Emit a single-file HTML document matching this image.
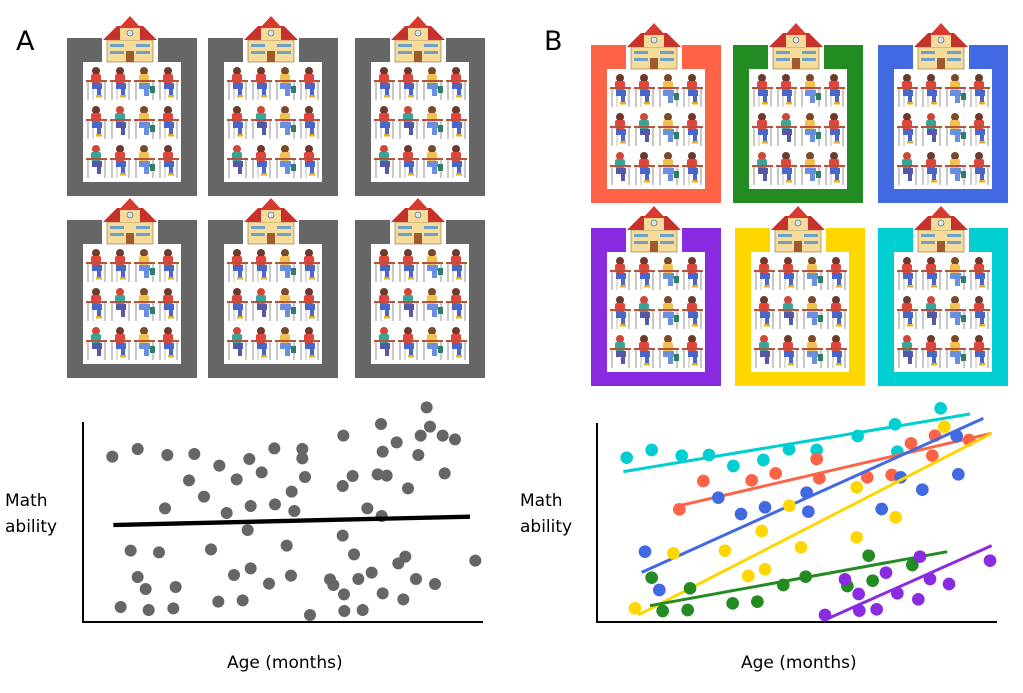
<!DOCTYPE html>
<html><head><meta charset="utf-8"><style>
html,body{margin:0;padding:0;background:#fff}
svg{display:block}
text{font-family:"DejaVu Sans","Liberation Sans",sans-serif;fill:#000}
</style></head><body>
<svg width="1023" height="693" viewBox="0 0 1023 693" xmlns="http://www.w3.org/2000/svg">
<defs>
<g id="stu">
 <line x1="2" y1="15" x2="2" y2="34" stroke="#aaa" stroke-width="1.3"/>
 <line x1="19" y1="15" x2="19" y2="34" stroke="#aaa" stroke-width="1.3"/>
 <line x1="7" y1="18" x2="7" y2="34" stroke="#bbb" stroke-width="1"/>
 <circle cx="10" cy="5" r="4" fill="#6b3a2a"/>
 <rect x="5" y="8" width="10" height="9" rx="2" fill="#e0443a"/>
 <rect x="6" y="17" width="10" height="6" fill="#4a66c8"/>
 <rect x="11" y="21" width="4" height="9" fill="#4a66c8"/>
 <rect x="0" y="14" width="21" height="2" fill="#b5533c"/>
 <rect x="10" y="29" width="6" height="2.5" fill="#e8b020"/>
</g>
<g id="stu2">
 <line x1="2" y1="15" x2="2" y2="34" stroke="#aaa" stroke-width="1.3"/>
 <line x1="19" y1="15" x2="19" y2="34" stroke="#aaa" stroke-width="1.3"/>
 <circle cx="10" cy="5" r="4" fill="#d0473a"/>
 <rect x="5" y="8" width="10" height="9" rx="2" fill="#3aa596"/>
 <rect x="6" y="17" width="10" height="6" fill="#5557a8"/>
 <rect x="11" y="21" width="4" height="9" fill="#5557a8"/>
 <rect x="0" y="14" width="21" height="2" fill="#b5533c"/>
</g>
<g id="stu3">
 <line x1="2" y1="15" x2="2" y2="34" stroke="#aaa" stroke-width="1.3"/>
 <line x1="19" y1="15" x2="19" y2="34" stroke="#aaa" stroke-width="1.3"/>
 <circle cx="10" cy="5" r="4" fill="#7a4a2a"/>
 <rect x="5" y="8" width="10" height="9" rx="2" fill="#f0c050"/>
 <rect x="5" y="17" width="11" height="6" fill="#6a8ee0"/>
 <rect x="10" y="21" width="5" height="9" fill="#6a8ee0"/>
 <rect x="16" y="20" width="5" height="7" fill="#2e7d6a"/>
 <rect x="0" y="14" width="21" height="2" fill="#b5533c"/>
</g>
<g id="cls">
 <rect x="0" y="0" width="130" height="158" fill="currentColor"/>
 <rect x="16" y="24" width="98" height="120" fill="#fff"/>
 <rect x="35" y="-3" width="56" height="28" fill="#fff"/>
 <polygon points="36,2 50,-12 76,-12 90,2" fill="#c8302a"/>
 <polygon points="52,-10 63,-22 74,-10" fill="#d83a30"/>
 <rect x="40" y="2" width="46" height="22" fill="#f5dc9a" stroke="#8a6a3a" stroke-width="0.6"/>
 <rect x="53" y="-10" width="20" height="12" fill="#f5dc9a"/>
 <circle cx="63" cy="-5" r="3" fill="#dde6f0" stroke="#556" stroke-width="0.6"/>
 <rect x="43" y="6" width="14" height="3" fill="#6fa0c8"/>
 <rect x="69" y="6" width="14" height="3" fill="#6fa0c8"/>
 <rect x="43" y="13" width="14" height="3" fill="#6fa0c8"/>
 <rect x="69" y="13" width="14" height="3" fill="#6fa0c8"/>
 <rect x="59" y="13" width="8" height="11" fill="#a05a30"/>
 <use href="#stu" x="19" y="28"/><use href="#stu" x="43" y="28"/><use href="#stu3" x="67" y="28"/><use href="#stu" x="91" y="28"/>
 <use href="#stu" x="19" y="67"/><use href="#stu2" x="43" y="67"/><use href="#stu3" x="67" y="67"/><use href="#stu" x="91" y="67"/>
 <use href="#stu2" x="19" y="106"/><use href="#stu" x="43" y="106"/><use href="#stu3" x="67" y="106"/><use href="#stu" x="91" y="106"/>
</g>
</defs>

<text x="16" y="50" font-size="27">A</text>
<text x="544" y="50" font-size="27">B</text>

<use href="#cls" x="67" y="38" style="color:#666"/>
<use href="#cls" x="208" y="38" style="color:#666"/>
<use href="#cls" x="355" y="38" style="color:#666"/>
<use href="#cls" x="67" y="220" style="color:#666"/>
<use href="#cls" x="208" y="220" style="color:#666"/>
<use href="#cls" x="355" y="220" style="color:#666"/>

<use href="#cls" x="591" y="45" style="color:#ff6347"/>
<use href="#cls" x="733" y="45" style="color:#228b22"/>
<use href="#cls" x="878" y="45" style="color:#4169e1"/>
<use href="#cls" x="591" y="228" style="color:#8a2be2"/>
<use href="#cls" x="735" y="228" style="color:#ffd700"/>
<use href="#cls" x="878" y="228" style="color:#00ced1"/>

<!-- Left plot -->
<path d="M83,422 V622 H483" fill="none" stroke="#000" stroke-width="2"/>
<g transform="translate(80,395) scale(0.33333)" fill="#666">
<circle cx="97" cy="185" r="18"/><circle cx="173" cy="162" r="18"/><circle cx="262" cy="180" r="18"/><circle cx="343" cy="177" r="18"/><circle cx="418" cy="212" r="18"/><circle cx="508" cy="192" r="18"/><circle cx="583" cy="160" r="18"/><circle cx="667" cy="162" r="18"/><circle cx="667" cy="190" r="18"/><circle cx="545" cy="232" r="18"/><circle cx="470" cy="253" r="18"/><circle cx="327" cy="256" r="18"/><circle cx="372" cy="305" r="18"/><circle cx="255" cy="340" r="18"/><circle cx="440" cy="354" r="18"/><circle cx="512" cy="333" r="18"/><circle cx="585" cy="328" r="18"/><circle cx="643" cy="348" r="18"/><circle cx="635" cy="290" r="18"/><circle cx="675" cy="246" r="18"/><circle cx="790" cy="122" r="18"/><circle cx="903" cy="87" r="18"/><circle cx="1040" cy="37" r="18"/><circle cx="1050" cy="95" r="18"/><circle cx="1022" cy="122" r="18"/><circle cx="1088" cy="122" r="18"/><circle cx="1125" cy="133" r="18"/><circle cx="950" cy="142" r="18"/><circle cx="908" cy="170" r="18"/><circle cx="1015" cy="180" r="18"/><circle cx="818" cy="243" r="18"/><circle cx="788" cy="273" r="18"/><circle cx="893" cy="238" r="18"/><circle cx="920" cy="242" r="18"/><circle cx="984" cy="280" r="18"/><circle cx="1094" cy="235" r="18"/><circle cx="862" cy="340" r="18"/><circle cx="905" cy="363" r="18"/><circle cx="503" cy="405" r="18"/><circle cx="152" cy="467" r="18"/><circle cx="237" cy="472" r="18"/><circle cx="393" cy="463" r="18"/><circle cx="620" cy="452" r="18"/><circle cx="788" cy="422" r="18"/><circle cx="822" cy="478" r="18"/><circle cx="976" cy="485" r="18"/><circle cx="955" cy="505" r="18"/><circle cx="1186" cy="497" r="18"/><circle cx="173" cy="546" r="18"/><circle cx="197" cy="582" r="18"/><circle cx="287" cy="576" r="18"/><circle cx="462" cy="540" r="18"/><circle cx="512" cy="520" r="18"/><circle cx="567" cy="566" r="18"/><circle cx="633" cy="542" r="18"/><circle cx="750" cy="553" r="18"/><circle cx="760" cy="570" r="18"/><circle cx="835" cy="552" r="18"/><circle cx="875" cy="533" r="18"/><circle cx="1008" cy="552" r="18"/><circle cx="1065" cy="567" r="18"/><circle cx="792" cy="598" r="18"/><circle cx="908" cy="595" r="18"/><circle cx="970" cy="613" r="18"/><circle cx="122" cy="636" r="18"/><circle cx="206" cy="645" r="18"/><circle cx="280" cy="640" r="18"/><circle cx="415" cy="620" r="18"/><circle cx="488" cy="616" r="18"/><circle cx="690" cy="660" r="18"/><circle cx="793" cy="648" r="18"/><circle cx="848" cy="645" r="18"/>
<line x1="100" y1="390" x2="1170" y2="365" stroke="#000" stroke-width="13"/>
</g>
<text x="5" y="506" font-size="17">Math</text>
<text x="5" y="532" font-size="17">ability</text>
<text x="227" y="668" font-size="17">Age (months)</text>

<!-- Right plot -->
<path d="M597,423 V622 H997" fill="none" stroke="#000" stroke-width="2"/>
<g transform="translate(590,395) scale(0.33333)">
<g fill="#00ced1"><circle cx="110" cy="188" r="19"/><circle cx="185" cy="165" r="19"/><circle cx="275" cy="182" r="19"/><circle cx="357" cy="180" r="19"/><circle cx="430" cy="213" r="19"/><circle cx="520" cy="195" r="19"/><circle cx="597" cy="163" r="19"/><circle cx="680" cy="165" r="19"/><circle cx="803" cy="123" r="19"/><circle cx="915" cy="88" r="19"/><circle cx="922" cy="170" r="19"/><circle cx="1052" cy="40" r="19"/></g>
<line x1="100" y1="230" x2="1140" y2="57" stroke="#00ced1" stroke-width="9"/>
<g fill="#ff6347"><circle cx="340" cy="258" r="19"/><circle cx="485" cy="256" r="19"/><circle cx="557" cy="235" r="19"/><circle cx="680" cy="192" r="19"/><circle cx="688" cy="250" r="19"/><circle cx="268" cy="343" r="19"/><circle cx="832" cy="247" r="19"/><circle cx="905" cy="240" r="19"/><circle cx="963" cy="145" r="19"/><circle cx="1035" cy="122" r="19"/><circle cx="1027" cy="182" r="19"/><circle cx="1137" cy="135" r="19"/></g>
<line x1="268" y1="332" x2="1205" y2="115" stroke="#ff6347" stroke-width="9"/>
<g fill="#4169e1"><circle cx="385" cy="308" r="19"/><circle cx="453" cy="357" r="19"/><circle cx="525" cy="337" r="19"/><circle cx="650" cy="293" r="19"/><circle cx="655" cy="350" r="19"/><circle cx="165" cy="470" r="19"/><circle cx="208" cy="585" r="19"/><circle cx="875" cy="342" r="19"/><circle cx="932" cy="247" r="19"/><circle cx="997" cy="284" r="19"/><circle cx="1105" cy="238" r="19"/><circle cx="1100" cy="123" r="19"/></g>
<line x1="155" y1="532" x2="1180" y2="70" stroke="#4169e1" stroke-width="9"/>
<g fill="#ffd700"><circle cx="135" cy="640" r="19"/><circle cx="250" cy="475" r="19"/><circle cx="405" cy="467" r="19"/><circle cx="515" cy="408" r="19"/><circle cx="598" cy="332" r="19"/><circle cx="633" cy="457" r="19"/><circle cx="475" cy="543" r="19"/><circle cx="525" cy="523" r="19"/><circle cx="800" cy="277" r="19"/><circle cx="800" cy="427" r="19"/><circle cx="917" cy="367" r="19"/><circle cx="1063" cy="95" r="19"/></g>
<line x1="145" y1="660" x2="1205" y2="115" stroke="#ffd700" stroke-width="9"/>
<g fill="#228b22"><circle cx="185" cy="548" r="19"/><circle cx="218" cy="648" r="19"/><circle cx="293" cy="645" r="19"/><circle cx="300" cy="580" r="19"/><circle cx="428" cy="625" r="19"/><circle cx="502" cy="620" r="19"/><circle cx="580" cy="570" r="19"/><circle cx="647" cy="545" r="19"/><circle cx="772" cy="573" r="19"/><circle cx="836" cy="482" r="19"/><circle cx="848" cy="557" r="19"/><circle cx="967" cy="510" r="19"/></g>
<line x1="180" y1="632" x2="1072" y2="470" stroke="#228b22" stroke-width="9"/>
<g fill="#8a2be2"><circle cx="705" cy="660" r="19"/><circle cx="765" cy="553" r="19"/><circle cx="806" cy="597" r="19"/><circle cx="808" cy="647" r="19"/><circle cx="860" cy="643" r="19"/><circle cx="888" cy="533" r="19"/><circle cx="922" cy="595" r="19"/><circle cx="985" cy="613" r="19"/><circle cx="990" cy="485" r="19"/><circle cx="1020" cy="552" r="19"/><circle cx="1077" cy="567" r="19"/><circle cx="1200" cy="497" r="19"/></g>
<line x1="715" y1="670" x2="1205" y2="452" stroke="#8a2be2" stroke-width="9"/>
</g>
<text x="520" y="506" font-size="17">Math</text>
<text x="520" y="532" font-size="17">ability</text>
<text x="741" y="668" font-size="17">Age (months)</text>
</svg>
</body></html>
